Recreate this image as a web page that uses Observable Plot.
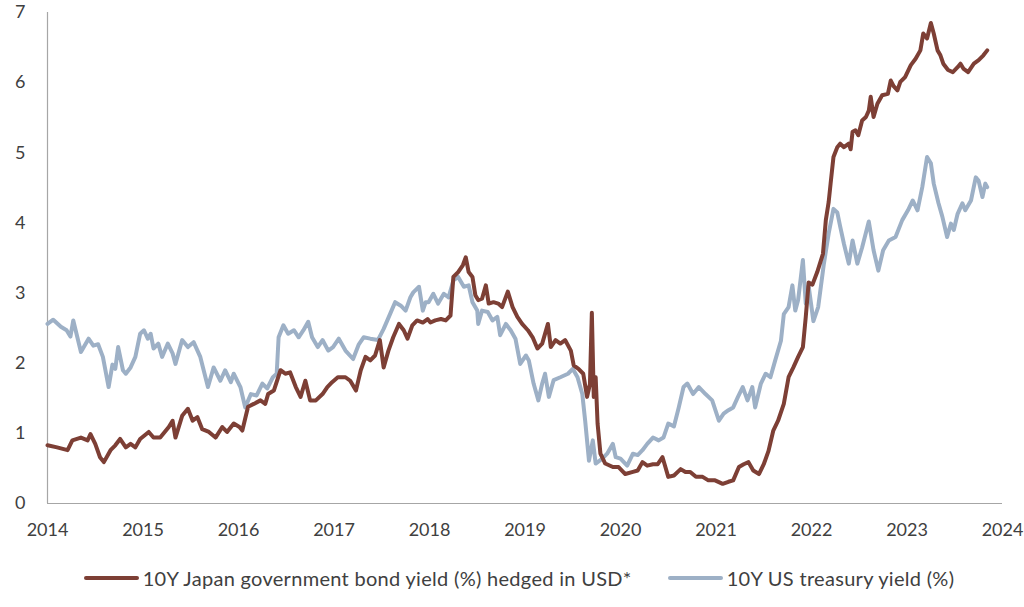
<!DOCTYPE html>
<html>
<head>
<meta charset="utf-8">
<script src="https://cdn.jsdelivr.net/npm/d3@7"></script>
<script src="https://cdn.jsdelivr.net/npm/@observablehq/plot@0.6"></script>
<style>
  html, body { margin: 0; padding: 0; background: #fff; }
  #chart svg { display: block; }
  .legend { display: flex; justify-content: center; gap: 36px; margin-top: 17px; padding-left: 14px;
    font-family: Lato, "Open Sans", sans-serif; font-size: 20px; letter-spacing: 0.3px; color: #404040; line-height: 22px; }
  .item { display: flex; align-items: center; }
  .sw { display: inline-block; width: 55px; height: 3.5px; border-radius: 2px; margin-right: 4px; }
</style>
</head>
<body>
<div id="chart"></div>
<div class="legend">
  <div class="item"><span class="sw" style="background:#7D3F35"></span>10Y Japan government bond yield (%) hedged in USD*</div>
  <div class="item"><span class="sw" style="background:#9DB0C6"></span>10Y US treasury yield (%)</div>
</div>
<script>
const yearTicks = [2014, 2015, 2016, 2017, 2018, 2019, 2020, 2021, 2022, 2023, 2024];
const yieldTicks = [0, 1, 2, 3, 4, 5, 6, 7];
const seriesNames = ["10Y Japan government bond yield (%) hedged in USD*", "10Y US treasury yield (%)"];

const ustYears = [
2014.00,2014.06,2014.14,2014.20,2014.24,2014.27,2014.35,2014.43,2014.48,2014.53,2014.58,2014.64,2014.68,2014.71,2014.74,2014.79,2014.82,2014.87,2014.92,2014.97,
2015.01,2015.05,2015.08,2015.11,2015.16,2015.20,2015.26,2015.31,2015.34,2015.41,2015.47,2015.53,2015.60,2015.68,2015.74,2015.81,2015.86,2015.92,2015.95,
2016.02,2016.07,2016.13,2016.19,2016.25,2016.30,2016.36,2016.40,2016.42,2016.47,2016.52,2016.58,2016.63,2016.68,2016.73,2016.77,2016.83,2016.88,2016.94,2016.99,
2017.05,2017.12,2017.20,2017.26,2017.31,2017.38,2017.46,2017.52,2017.59,2017.64,2017.70,2017.75,2017.80,2017.83,2017.89,2017.93,2017.96,2017.99,
2018.04,2018.09,2018.15,2018.20,2018.25,2018.30,2018.36,2018.41,2018.45,2018.50,2018.51,2018.55,2018.61,2018.66,2018.71,2018.74,2018.80,2018.85,2018.90,2018.95,
2019.01,2019.04,2019.09,2019.14,2019.18,2019.21,2019.25,2019.30,2019.37,2019.45,2019.50,2019.55,2019.60,2019.63,2019.67,2019.71,2019.74,2019.81,2019.86,2019.92,2019.95,
2020.00,2020.07,2020.13,2020.18,2020.23,2020.28,2020.34,2020.40,2020.45,2020.50,2020.56,2020.61,2020.66,2020.70,2020.76,2020.82,2020.89,2020.96,
2021.03,2021.08,2021.13,2021.18,2021.23,2021.28,2021.33,2021.38,2021.41,2021.47,2021.52,2021.57,2021.62,2021.68,2021.71,2021.76,2021.80,2021.83,2021.86,2021.91,2021.94,2021.97,
2022.02,2022.07,2022.13,2022.18,2022.23,2022.27,2022.30,2022.34,2022.39,2022.43,2022.48,2022.53,2022.60,2022.65,2022.70,2022.75,2022.81,2022.88,2022.95,
2023.01,2023.06,2023.11,2023.16,2023.21,2023.25,2023.28,2023.33,2023.37,2023.42,2023.46,2023.49,2023.53,2023.58,2023.61,2023.67,2023.72,2023.75,2023.79,2023.82,2023.84
];
const ustYield = [
2.56,2.62,2.52,2.47,2.38,2.61,2.16,2.35,2.25,2.27,2.09,1.66,1.98,1.92,2.23,1.90,1.85,1.94,2.09,2.42,
2.47,2.35,2.42,2.21,2.28,2.09,2.28,2.14,1.99,2.33,2.23,2.30,2.09,1.66,1.94,1.75,1.90,1.73,1.85,
1.66,1.37,1.56,1.54,1.71,1.64,1.80,1.85,2.37,2.54,2.42,2.47,2.37,2.47,2.59,2.37,2.23,2.33,2.18,2.23,
2.35,2.18,2.06,2.27,2.37,2.35,2.33,2.49,2.71,2.87,2.82,2.75,2.94,3.01,3.09,2.75,2.87,2.87,
2.99,2.85,2.99,2.94,3.18,3.23,3.09,3.11,2.87,2.75,2.56,2.75,2.73,2.61,2.66,2.40,2.56,2.47,2.35,1.99,
2.11,2.04,1.71,1.47,1.71,1.85,1.52,1.76,1.80,1.85,1.92,1.80,1.56,1.18,0.61,0.90,0.57,0.64,0.71,0.85,0.66,
0.64,0.54,0.71,0.69,0.76,0.85,0.94,0.90,0.94,1.14,1.10,1.37,1.66,1.71,1.56,1.66,1.56,1.47,
1.18,1.28,1.33,1.37,1.52,1.66,1.47,1.66,1.37,1.71,1.85,1.80,2.04,2.32,2.70,2.80,3.11,2.75,2.90,3.47,2.85,3.10,
2.60,2.80,3.42,3.85,4.20,4.15,3.95,3.70,3.42,3.75,3.42,3.65,4.02,3.61,3.32,3.61,3.75,3.80,4.04,
4.18,4.32,4.18,4.51,4.94,4.85,4.56,4.28,4.09,3.80,3.99,3.90,4.13,4.28,4.18,4.32,4.65,4.60,4.37,4.56,4.51
];

const jgbYears = [
2014.00,2014.10,2014.21,2014.26,2014.35,2014.42,2014.45,2014.50,2014.55,2014.59,2014.66,2014.71,2014.76,2014.82,2014.87,2014.92,2014.97,
2015.06,2015.11,2015.18,2015.27,2015.31,2015.34,2015.41,2015.47,2015.52,2015.57,2015.62,2015.69,2015.76,2015.83,2015.88,2015.95,
2016.01,2016.04,2016.10,2016.16,2016.23,2016.28,2016.31,2016.37,2016.44,2016.49,2016.54,2016.60,2016.65,2016.70,2016.75,2016.81,2016.88,2016.93,2016.98,
2017.04,2017.12,2017.17,2017.23,2017.28,2017.33,2017.38,2017.43,2017.48,2017.52,2017.57,2017.62,2017.68,2017.73,2017.77,2017.82,2017.87,2017.93,2017.98,
2018.01,2018.06,2018.12,2018.17,2018.22,2018.25,2018.30,2018.35,2018.38,2018.41,2018.45,2018.48,2018.51,2018.55,2018.59,2018.62,2018.67,2018.72,2018.76,2018.82,2018.87,2018.92,2018.97,
2019.03,2019.08,2019.13,2019.18,2019.24,2019.27,2019.32,2019.37,2019.42,2019.48,2019.51,2019.56,2019.61,2019.65,2019.68,2019.70,2019.72,2019.74,2019.76,2019.79,2019.84,2019.92,2019.98,
2020.05,2020.13,2020.18,2020.23,2020.28,2020.34,2020.39,2020.44,2020.47,2020.50,2020.56,2020.63,2020.68,2020.73,2020.79,2020.86,2020.92,2020.99,
2021.07,2021.13,2021.18,2021.24,2021.29,2021.34,2021.39,2021.45,2021.50,2021.55,2021.60,2021.65,2021.71,2021.76,2021.81,2021.86,2021.91,2021.94,2021.97,
2022.01,2022.06,2022.12,2022.15,2022.18,2022.20,2022.23,2022.27,2022.30,2022.34,2022.39,2022.41,2022.43,2022.46,2022.49,2022.53,2022.57,2022.60,2022.62,2022.65,2022.69,2022.74,2022.80,2022.83,2022.86,2022.90,2022.93,2022.98,
2023.04,2023.09,2023.14,2023.17,2023.21,2023.25,2023.28,2023.32,2023.35,2023.38,2023.43,2023.48,2023.53,2023.56,2023.59,2023.64,2023.70,2023.75,2023.80,2023.84
];
const jgbYield = [
0.83,0.80,0.76,0.90,0.94,0.90,0.99,0.85,0.66,0.59,0.76,0.83,0.92,0.80,0.85,0.80,0.92,
1.02,0.94,0.94,1.09,1.18,0.94,1.25,1.35,1.18,1.23,1.06,1.02,0.94,1.09,1.02,1.14,
1.09,1.04,1.38,1.42,1.47,1.42,1.56,1.61,1.90,1.85,1.87,1.66,1.52,1.75,1.47,1.47,1.56,1.66,1.73,
1.80,1.80,1.75,1.61,1.90,2.09,2.04,2.11,2.33,1.94,2.18,2.37,2.56,2.47,2.35,2.54,2.61,2.58,2.63,
2.58,2.61,2.63,2.61,2.68,3.23,3.30,3.40,3.51,3.30,3.23,2.97,2.90,2.92,3.11,2.85,2.87,2.85,2.80,3.02,2.80,2.66,2.56,
2.47,2.37,2.21,2.28,2.56,2.23,2.33,2.28,2.33,2.18,1.97,1.92,1.85,1.52,1.70,2.72,1.52,1.80,1.14,0.71,0.57,0.52,0.52,
0.42,0.45,0.47,0.59,0.54,0.56,0.56,0.66,0.52,0.38,0.40,0.49,0.45,0.45,0.38,0.38,0.33,0.33,
0.28,0.31,0.33,0.52,0.56,0.59,0.47,0.42,0.56,0.75,1.04,1.18,1.42,1.80,1.94,2.09,2.23,2.66,3.15,
3.12,3.30,3.56,4.04,4.30,4.56,4.94,5.08,5.13,5.08,5.13,5.05,5.30,5.32,5.25,5.46,5.51,5.60,5.80,5.51,5.70,5.82,5.84,6.03,5.95,5.89,6.01,6.08,
6.25,6.34,6.46,6.70,6.63,6.85,6.70,6.46,6.39,6.27,6.18,6.15,6.22,6.27,6.20,6.15,6.27,6.32,6.39,6.46
];

const colors = ["#7D3F35", "#9DB0C6"];
const ust = ustYears.map((t, i) => ({t, v: ustYield[i], s: seriesNames[1]}));
const jgb = jgbYears.map((t, i) => ({t, v: jgbYield[i], s: seriesNames[0]}));

const chart = Plot.plot({
  width: 1024,
  height: 550,
  marginTop: 12,
  marginBottom: 47,
  marginLeft: 47,
  marginRight: 22,
  style: {fontFamily: "Lato, 'Open Sans', sans-serif", fontSize: "18px", color: "#404040", background: "#fff"},
  x: {domain: [2014, 2024], label: null},
  y: {domain: [0, 7], label: null},
  color: {domain: seriesNames, range: colors},
  marks: [
    Plot.axisX({ticks: yearTicks, tickFormat: d3.format("d"), tickSize: 0, tickPadding: 20, fontSize: 18}),
    Plot.axisY({ticks: yieldTicks, tickFormat: d3.format("d"), tickSize: 0, tickPadding: 22, fontSize: 18}),
    Plot.ruleY([0], {stroke: "#A6A6A6", strokeWidth: 1.2}),
    Plot.ruleX([2014], {y1: 0, y2: 7, stroke: "#A6A6A6", strokeWidth: 1.2}),
    Plot.line(ust, {x: "t", y: "v", stroke: "s", strokeWidth: 4, strokeLinejoin: "round"}),
    Plot.line(jgb, {x: "t", y: "v", stroke: "s", strokeWidth: 4, strokeLinejoin: "round"})
  ]
});
document.getElementById("chart").appendChild(chart);
</script>
</body>
</html>
